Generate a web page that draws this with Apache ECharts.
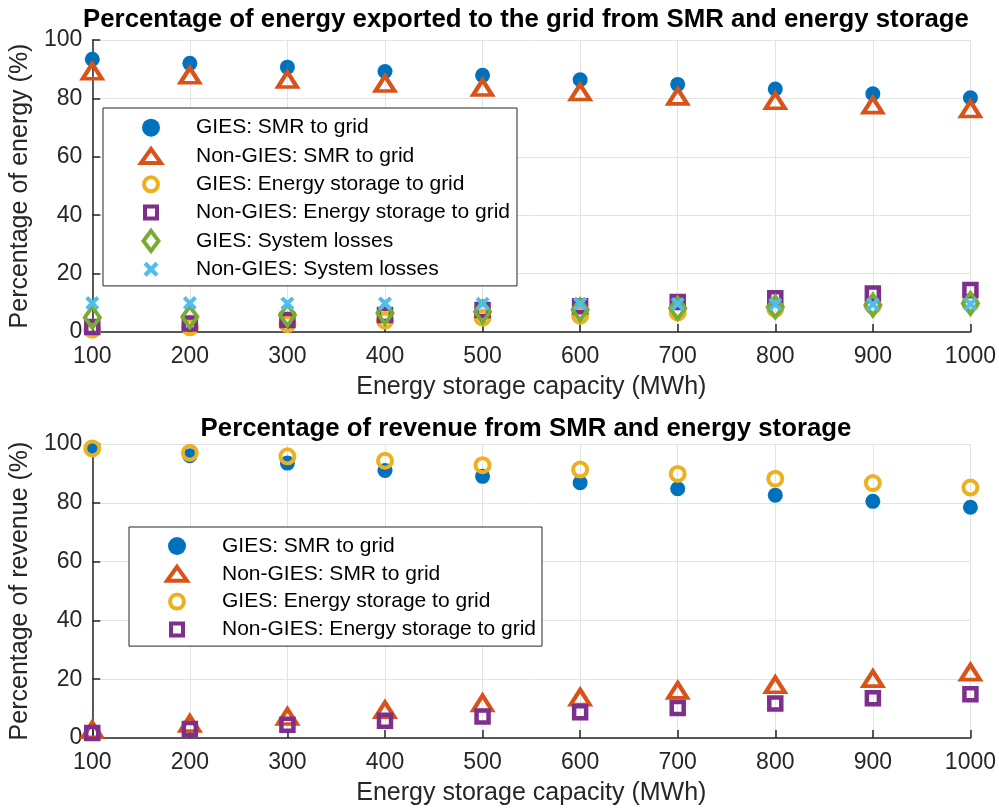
<!DOCTYPE html>
<html>
<head>
<meta charset="utf-8">
<script src="https://cdn.jsdelivr.net/npm/echarts@6/dist/echarts.min.js"></script>
<style>
  html, body { margin: 0; padding: 0; background: #fff; }
  #chart { width: 999px; height: 812px; }
</style>
</head>
<body>
<div id="chart"></div>
<script>
// x values (MWh)
var capacity = [100, 200, 300, 400, 500, 600, 700, 800, 900, 1000];

// top: percentage of energy (%)
var energyGiesSmr = [93.4, 92.0, 90.7, 89.2, 87.9, 86.4, 84.8, 83.2, 81.6, 80.2];
var energyNonGiesSmr = [89.3, 87.9, 86.5, 85.1, 83.7, 82.2, 80.7, 79.2, 77.7, 76.4];
var energyGiesStorage = [0.8, 1.6, 2.7, 3.9, 4.9, 5.6, 6.7, 7.9, 9.0, 9.8];
var energyNonGiesStorage = [1.7, 2.9, 4.1, 5.8, 7.5, 8.8, 10.3, 11.6, 13.2, 14.4];
var energyGiesLosses = [5.0, 5.2, 5.8, 6.4, 6.9, 7.6, 8.1, 8.6, 9.2, 9.8];
var energyNonGiesLosses = [9.9, 9.9, 9.8, 9.8, 9.7, 9.7, 9.6, 9.5, 9.5, 9.6];

// bottom: percentage of revenue (%)
var revGiesSmr = [98.5, 96.0, 93.5, 91.0, 89.0, 86.8, 84.8, 82.6, 80.5, 78.5];
var revNonGiesSmr = [2.8, 4.9, 7.3, 9.6, 11.9, 13.9, 16.2, 18.1, 20.2, 22.4];
var revGiesStorage = [98.5, 97.0, 95.8, 94.3, 92.8, 91.3, 89.8, 88.2, 86.7, 85.2];
var revNonGiesStorage = [1.7, 3.1, 4.5, 5.9, 7.3, 8.8, 10.2, 11.7, 13.5, 14.9];

var yTicks = [0, 20, 40, 60, 80, 100];

var names = [
  'GIES: SMR to grid',
  'Non-GIES: SMR to grid',
  'GIES: Energy storage to grid',
  'Non-GIES: Energy storage to grid',
  'GIES: System losses',
  'Non-GIES: System losses'
];

var FONT = '"Liberation Sans", Arial, Helvetica, sans-serif';
var xShape = 'path://M2,0 L5,3 L8,0 L10,2 L7,5 L10,8 L8,10 L5,7 L2,10 L0,8 L3,5 L0,2 Z';
var HOLLOW = 'rgba(0,0,0,0)';

// marker styles, MATLAB default colours
var styles = [
  { symbol: 'circle', symbolSize: 15, itemStyle: { color: '#0072BD', opacity: 1 } },
  { symbol: 'triangle', symbolSize: [19, 15], itemStyle: { color: HOLLOW, borderColor: '#D95319', borderWidth: 4, opacity: 1 } },
  { symbol: 'circle', symbolSize: 14, itemStyle: { color: HOLLOW, borderColor: '#EDB120', borderWidth: 4, opacity: 1 } },
  { symbol: 'rect', symbolSize: 12, itemStyle: { color: HOLLOW, borderColor: '#7E2F8E', borderWidth: 4.5, opacity: 1 } },
  { symbol: 'diamond', symbolSize: [15, 21], itemStyle: { color: HOLLOW, borderColor: '#77AC30', borderWidth: 4, opacity: 1 } },
  { symbol: xShape, symbolSize: 14, itemStyle: { color: '#4DBEEE', opacity: 1 } }
];

// legend icons drawn in a 26x26 box (the M0,0 M26,26 anchors keep the box size)
// every icon gets a 4px stroke (transparent on the solid ones) so all items are the same height
var BOX = 'path://M0,0 M26,26 ';
var legendIcons = [
  { icon: BOX + 'M4,13 A9,9 0 1,1 22,13 A9,9 0 1,1 4,13 Z', itemStyle: { color: '#0072BD', borderColor: HOLLOW, borderWidth: 4 } },
  { icon: BOX + 'M13,6 L23,20 L3,20 Z', itemStyle: { color: HOLLOW, borderColor: '#D95319', borderWidth: 4 } },
  { icon: BOX + 'M6,13 A7,7 0 1,1 20,13 A7,7 0 1,1 6,13 Z', itemStyle: { color: HOLLOW, borderColor: '#EDB120', borderWidth: 4 } },
  { icon: BOX + 'M7,7 L19,7 L19,19 L7,19 Z', itemStyle: { color: HOLLOW, borderColor: '#7E2F8E', borderWidth: 4 } },
  { icon: BOX + 'M13,3 L20.5,13 L13,23 L5.5,13 Z', itemStyle: { color: HOLLOW, borderColor: '#77AC30', borderWidth: 4 } },
  { icon: BOX + 'M8.5,5.5 L13,10 L17.5,5.5 L20.5,8.5 L16,13 L20.5,17.5 L17.5,20.5 L13,16 L8.5,20.5 L5.5,17.5 L10,13 L5.5,8.5 Z',
    itemStyle: { color: '#4DBEEE', borderColor: HOLLOW, borderWidth: 4 } }
];

function pairs(ys) {
  var out = [];
  for (var i = 0; i < capacity.length; i++) out.push([capacity[i], ys[i]]);
  return out;
}

function makeSeries(idx, ys, gridIdx) {
  var s = styles[idx];
  return {
    name: names[idx],
    type: 'scatter',
    xAxisIndex: gridIdx,
    yAxisIndex: gridIdx,
    symbol: s.symbol,
    symbolSize: s.symbolSize,
    itemStyle: s.itemStyle,
    clip: false,
    data: pairs(ys)
  };
}

function legendData(n) {
  var out = [];
  for (var i = 0; i < n; i++) {
    out.push({ name: names[i], icon: legendIcons[i].icon, itemStyle: legendIcons[i].itemStyle });
  }
  return out;
}

function xAxis(gridIdx) {
  return {
    type: 'value', gridIndex: gridIdx,
    min: 100, max: 1000, interval: 100,
    name: 'Energy storage capacity (MWh)',
    nameLocation: 'middle', nameGap: 43,
    nameTextStyle: { fontFamily: FONT, fontSize: 25, color: '#262626' },
    axisLine: { show: true, onZero: false, lineStyle: { color: '#262626', width: 1.5 } },
    axisTick: { show: true, inside: true, length: 8, lineStyle: { color: '#262626', width: 1.5 } },
    axisLabel: { fontFamily: FONT, fontSize: 23, color: '#262626', margin: 13,
      formatter: function (v) { return String(v); } },
    splitLine: { show: true, lineStyle: { color: '#e3e3e3', width: 1 } }
  };
}

function yAxis(gridIdx, title) {
  return {
    type: 'value', gridIndex: gridIdx,
    min: yTicks[0], max: yTicks[yTicks.length - 1], interval: 20,
    name: title,
    nameLocation: 'middle', nameGap: 48,
    nameTextStyle: { fontFamily: FONT, fontSize: 25, color: '#262626' },
    axisLine: { show: true, lineStyle: { color: '#262626', width: 1.5 } },
    axisTick: { show: true, inside: true, length: 8, lineStyle: { color: '#262626', width: 1.5 } },
    axisLabel: { fontFamily: FONT, fontSize: 23, color: '#262626', margin: 10 },
    splitLine: { show: true, lineStyle: { color: '#e3e3e3', width: 1 } }
  };
}

var legendCommon = {
  orient: 'vertical',
  backgroundColor: '#fff',
  borderColor: '#262626',
  borderWidth: 1,
  itemWidth: 26,
  itemHeight: 26,
  selectedMode: false,
  textStyle: { fontFamily: FONT, fontSize: 21, color: '#000', lineHeight: 22, padding: [0, 0, 0, 27] }
};

var chart = echarts.init(document.getElementById('chart'), null, { renderer: 'canvas' });

var option = {
  animation: false,
  backgroundColor: '#fff',
  title: [
    {
      text: 'Percentage of energy exported to the grid from SMR and energy storage',
      left: 526, top: 7, textAlign: 'center', padding: 0,
      textStyle: { fontFamily: FONT, fontSize: 25.8, fontWeight: 'bold', color: '#000' }
    },
    {
      text: 'Percentage of revenue from SMR and energy storage',
      left: 526, top: 416, textAlign: 'center', padding: 0,
      textStyle: { fontFamily: FONT, fontSize: 25.8, fontWeight: 'bold', color: '#000' }
    }
  ],
  grid: [
    { left: 90, right: 27, top: 40, height: 292 },
    { left: 90, right: 27, top: 444, height: 294 }
  ],
  xAxis: [xAxis(0), xAxis(1)],
  yAxis: [yAxis(0, 'Percentage of energy (%)'), yAxis(1, 'Percentage of revenue (%)')],
  legend: [
    Object.assign({}, legendCommon, {
      left: 103, top: 108,
      padding: [4.7, 7, 1.7, 33],
      itemGap: -1.7,
      data: legendData(6)
    }),
    Object.assign({}, legendCommon, {
      left: 129, top: 527,
      padding: [4, 6, 1.7, 33],
      itemGap: -2.2,
      data: legendData(4)
    })
  ],
  series: [
    makeSeries(0, energyGiesSmr, 0),
    makeSeries(1, energyNonGiesSmr, 0),
    makeSeries(2, energyGiesStorage, 0),
    makeSeries(3, energyNonGiesStorage, 0),
    makeSeries(4, energyGiesLosses, 0),
    makeSeries(5, energyNonGiesLosses, 0),
    makeSeries(0, revGiesSmr, 1),
    makeSeries(1, revNonGiesSmr, 1),
    makeSeries(2, revGiesStorage, 1),
    makeSeries(3, revNonGiesStorage, 1)
  ]
};

chart.setOption(option);
</script>
</body>
</html>
